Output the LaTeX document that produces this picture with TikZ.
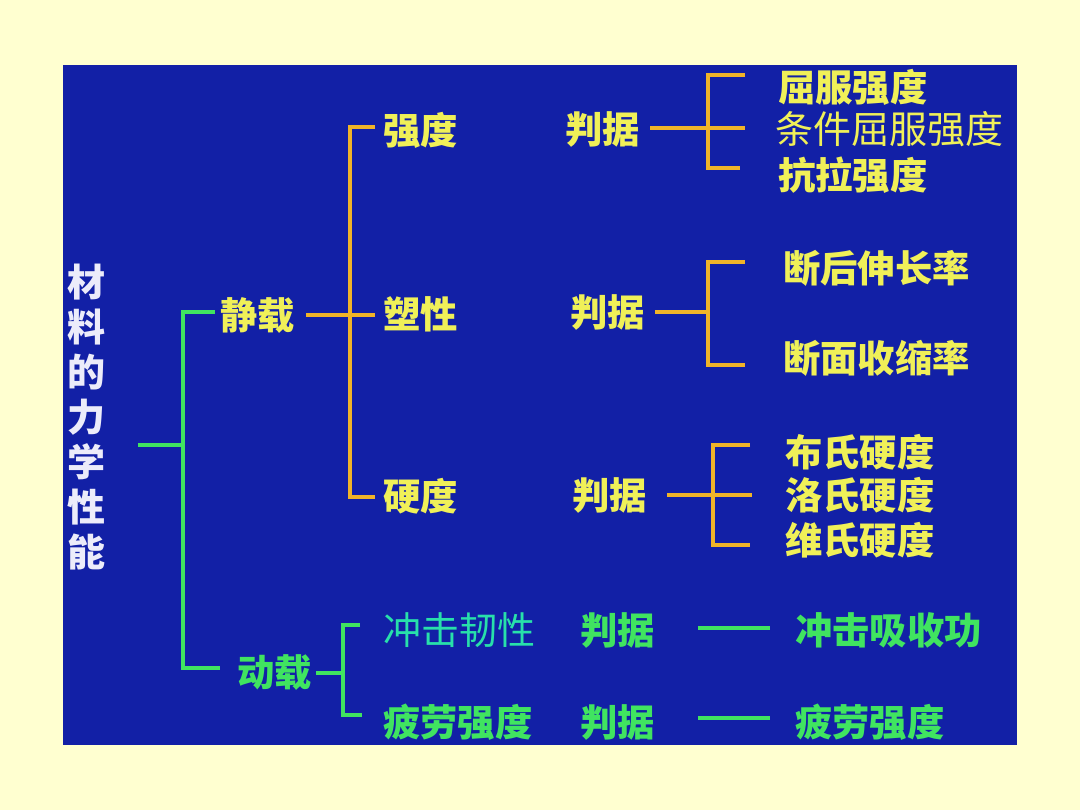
\documentclass[tikz,border=0pt]{standalone}
\usepackage{fontspec}
\setmainfont{Noto Sans CJK SC}
\usetikzlibrary{calc}

\definecolor{paper}{RGB}{255,255,208}
\definecolor{slide}{RGB}{18,32,166}
\definecolor{txtyel}{RGB}{240,240,88}
\definecolor{linorg}{RGB}{240,180,40}
\definecolor{grn}{RGB}{64,228,96}
\definecolor{cyangrn}{RGB}{40,224,170}
\definecolor{ttlwht}{RGB}{236,236,250}

\begin{document}
\begin{tikzpicture}[x=0.75pt, y=-0.75pt,
  font=\fontsize{28}{30}\selectfont\bfseries,
  ytxt/.style={anchor=west, inner sep=0pt, text=txtyel},
  gtxt/.style={anchor=west, inner sep=0pt, text=grn},
  oline/.style={draw=linorg, line width=2.6pt},
  gline/.style={draw=grn, line width=2.6pt}]
  % page and slide
  \useasboundingbox (0,0) rectangle (1080,810);
  \fill[paper] (0,0) rectangle (1080,810);
  \fill[slide] (63,65) rectangle (1017,745);
  % title
  \node[text=ttlwht, align=center, inner sep=0pt,
    font=\fontsize{28.5}{33.75}\selectfont\bfseries] (title) at (86,417)
    {材\\料\\的\\力\\学\\性\\能};
  % static / dynamic load
  \node[ytxt] (jz) at (220,315) {静载};
  \node[gtxt] (dz) at (237,673) {动载};
  \coordinate (root) at (138,445);
  \coordinate (j0) at (183,445);
  \draw[gline] (root) -- (j0);
  \draw[gline] ([shift={(-5,-3)}]jz.west) -| (j0) |- ([shift={(-17,-5)}]dz.west);
  % static branches
  \node[ytxt] (qd) at (383,130) {强度};
  \node[ytxt] (sx) at (383,314) {塑性};
  \node[ytxt] (yd) at (383,496) {硬度};
  \coordinate (ov) at (350,315);
  \draw[oline] ($(ov -| jz.east)+(11,0)$) -- ($(ov -| sx.west)+(-8,0)$);
  \draw[oline] ([shift={(-8,-3)}]qd.west) -| (ov) |- ([shift={(-8,1)}]yd.west);
  % strength
  \node[ytxt] (pj1) at (565,129) {判据};
  \node[ytxt] (qf) at (778,87) {屈服强度};
  \node[ytxt, font=\fontsize{28.5}{30}\selectfont] (tj) at (775,129) {条件屈服强度};
  \node[ytxt] (kl) at (778,175) {抗拉强度};
  \coordinate (j1) at (708,128);
  \draw[oline] ($(j1 -| pj1.east)+(10,0)$) -- ($(j1 -| tj.west)+(-30,0)$);
  \draw[oline] ([shift={(-33,-12)}]qf.west) -| (j1) |- ([shift={(-38,-7)}]kl.west);
  % plasticity
  \node[ytxt] (pj2) at (570,312) {判据};
  \node[ytxt] (dh) at (783,268) {断后伸长率};
  \node[ytxt] (dm) at (783,358) {断面收缩率};
  \coordinate (j2) at (708,312);
  \draw[oline] ($(j2 -| pj2.east)+(10,0)$) -- (j2);
  \draw[oline] ([shift={(-38,-6)}]dh.west) -| (j2) |- ([shift={(-38,7)}]dm.west);
  % hardness
  \node[ytxt] (pj3) at (572,495) {判据};
  \node[ytxt] (bs) at (785,452) {布氏硬度};
  \node[ytxt] (ls) at (785,495) {洛氏硬度};
  \node[ytxt] (ws) at (785,540) {维氏硬度};
  \coordinate (j3) at (713,495);
  \draw[oline] ($(j3 -| pj3.east)+(20,0)$) -- ($(j3 -| ls.west)+(-33,0)$);
  \draw[oline] ([shift={(-35,-7)}]bs.west) -| (j3) |- ([shift={(-35,5)}]ws.west);
  % dynamic branches
  \node[gtxt, text=cyangrn, font=\fontsize{28.5}{30}\selectfont] (cj) at (383,630) {冲击韧性};
  \node[gtxt] (pl) at (383,722) {疲劳强度};
  \coordinate (j5) at (343,673);
  \draw[gline] ($(j5 -| dz.east)+(4,0)$) -- (j5);
  \draw[gline] ([shift={(-23,-5)}]cj.west) -| (j5) |- ([shift={(-21,-7)}]pl.west);
  \node[gtxt] (pj4) at (580,630) {判据};
  \node[gtxt] (cx) at (795,630) {冲击吸收功};
  \node[gtxt] (pj5) at (580,722) {判据};
  \node[gtxt] (pl2) at (795,722) {疲劳强度};
  \coordinate (d4) at (695,628);
  \coordinate (d5) at (695,718);
  \draw[gline] (d4 -| pj4.east) ++(43,0) -- ($(d4 -| cx.west)+(-25,0)$);
  \draw[gline] (d5 -| pj5.east) ++(43,0) -- ($(d5 -| pl2.west)+(-25,0)$);
\end{tikzpicture}
\end{document}
